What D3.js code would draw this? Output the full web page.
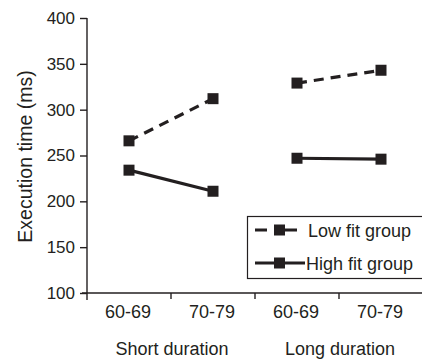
<!DOCTYPE html>
<html>
<head>
<meta charset="utf-8">
<script src="https://cdn.jsdelivr.net/npm/d3@7"></script>
<style>
  html, body { margin: 0; padding: 0; background: #fff; }
  svg { display: block; font-family: "Liberation Sans", Arial, sans-serif; }
</style>
</head>
<body>
<div id="chart"></div>
<script>
// categories: age group within each duration
var categories = ["s60", "s70", "l60", "l70"];
var tickLabels = ["60-69", "70-79", "60-69", "70-79"];
var groups = ["Short duration", "Long duration"];
var groupOf = [0, 0, 1, 1];

// execution time (ms)
var lowFit = [266, 312, 329, 343];
var highFit = [234, 211, 247, 246];
var yTicks = [100, 150, 200, 250, 300, 350, 400];

var seriesNames = ["Low fit group", "High fit group"];

var width = 422, height = 360;
var plotLeft = 87, plotRight = 423, plotTop = 18, plotBottom = 293;
var ink = "#231f20";

var svg = d3.select("#chart").append("svg")
    .attr("width", width)
    .attr("height", height);

var x = d3.scaleBand().domain(categories).range([plotLeft, plotRight]).padding(0);
var y = d3.scaleLinear().domain([100, 400]).range([plotBottom, plotTop]);

// y axis
var yAxis = svg.append("g")
    .attr("transform", "translate(" + plotLeft + ",0)")
    .call(d3.axisLeft(y).tickValues(yTicks).tickSize(7).tickSizeOuter(0).tickPadding(5));
yAxis.select(".domain").remove();
yAxis.selectAll("line").attr("stroke", ink).attr("stroke-width", 1.4);
yAxis.selectAll("text").attr("font-size", 17).attr("fill", ink)
    .attr("font-family", "Liberation Sans, Arial, sans-serif");
svg.append("line")
    .attr("x1", plotLeft).attr("x2", plotLeft)
    .attr("y1", plotTop).attr("y2", plotBottom + 7)
    .attr("stroke", ink).attr("stroke-width", 1.4);

// x axis baseline
svg.append("line")
    .attr("x1", plotLeft - 5).attr("x2", width)
    .attr("y1", plotBottom).attr("y2", plotBottom)
    .attr("stroke", ink).attr("stroke-width", 1.4);

// tick marks between categories
svg.selectAll(".xtick")
    .data(categories.slice(1))
    .enter().append("line")
    .attr("class", "xtick")
    .attr("x1", function(d) { return x(d); })
    .attr("x2", function(d) { return x(d); })
    .attr("y1", plotBottom).attr("y2", plotBottom + 6)
    .attr("stroke", ink).attr("stroke-width", 1.4);

// category labels
svg.selectAll(".xlabel")
    .data(categories)
    .enter().append("text")
    .attr("class", "xlabel")
    .attr("x", function(d) { return x(d) + x.bandwidth() / 2 - 1; })
    .attr("y", 318)
    .attr("text-anchor", "middle")
    .attr("font-size", 18)
    .attr("fill", ink)
    .text(function(d, i) { return tickLabels[i]; });

// group labels
svg.selectAll(".glabel")
    .data(groups)
    .enter().append("text")
    .attr("class", "glabel")
    .attr("x", function(d, i) { return x(categories[i * 2 + 1]) + 1; })
    .attr("y", 355)
    .attr("text-anchor", "middle")
    .attr("font-size", 18)
    .attr("fill", ink)
    .text(function(d) { return d; });

// y label
svg.append("text")
    .attr("transform", "translate(32," + ((plotTop + plotBottom) / 2 + 1) + ") rotate(-90)")
    .attr("text-anchor", "middle")
    .attr("font-size", 19.5)
    .attr("fill", ink)
    .text("Execution time (ms)");

var line = d3.line()
    .x(function(d) { return x(categories[d.i]) + x.bandwidth() / 2; })
    .y(function(d) { return y(d.v); });

function drawSeries(values, dashed) {
    var pts = values.map(function(v, i) { return {i: i, v: v}; });
    [0, 1].forEach(function(g) {
        var seg = pts.filter(function(p) { return groupOf[p.i] === g; });
        svg.append("path")
            .datum(seg)
            .attr("d", line)
            .attr("fill", "none")
            .attr("stroke", ink)
            .attr("stroke-width", 3.2)
            .attr("stroke-dasharray", dashed ? "10,7" : null);
    });
    svg.selectAll(null)
        .data(pts)
        .enter().append("rect")
        .attr("x", function(d) { return x(categories[d.i]) + x.bandwidth() / 2 - 5.5; })
        .attr("y", function(d) { return y(d.v) - 5.5; })
        .attr("width", 11).attr("height", 11)
        .attr("fill", ink);
}

drawSeries(lowFit, true);
drawSeries(highFit, false);

// legend
var lg = svg.append("g");
lg.append("rect")
    .attr("x", 247.5).attr("y", 216.5)
    .attr("width", 176).attr("height", 62)
    .attr("fill", "#fff")
    .attr("stroke", ink).attr("stroke-width", 1.2);

seriesNames.forEach(function(name, i) {
    var ly = 230 + i * 33;
    lg.append("line")
        .attr("x1", 255).attr("x2", i === 0 ? 297 : 305)
        .attr("y1", ly).attr("y2", ly)
        .attr("stroke", ink).attr("stroke-width", 3.2)
        .attr("stroke-dasharray", i === 0 ? "12,7,30" : null);
    lg.append("rect")
        .attr("x", 274).attr("y", ly - 5.5)
        .attr("width", 11).attr("height", 11)
        .attr("fill", ink);
    lg.append("text")
        .attr("x", i === 0 ? 308 : 306)
        .attr("y", ly + 6.5)
        .attr("font-size", 18)
        .attr("fill", ink)
        .text(name);
});
</script>
</body>
</html>
